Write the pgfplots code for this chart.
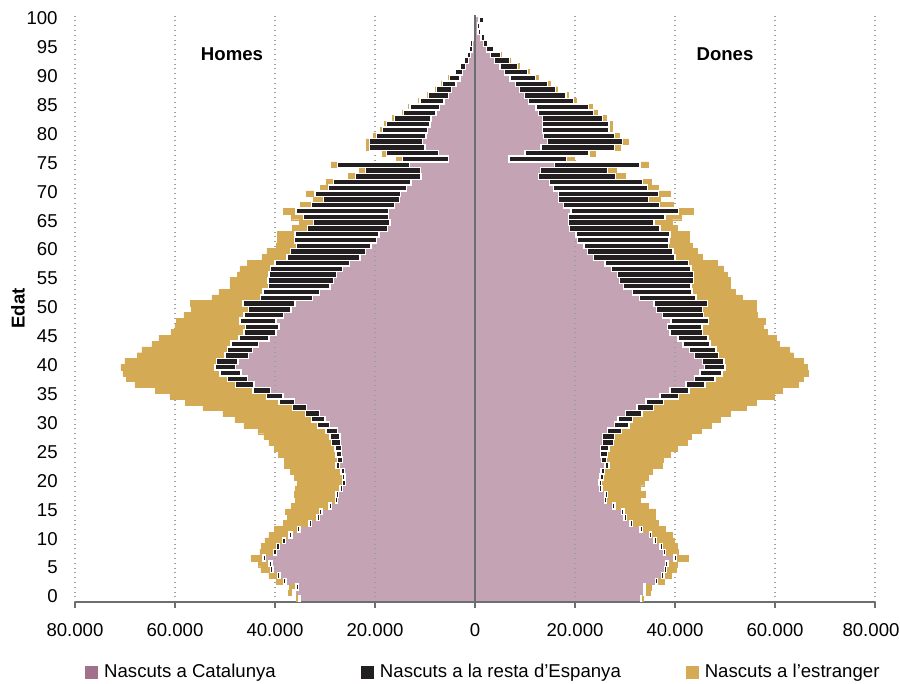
\documentclass[border=0pt]{standalone}
\usepackage{fontspec}
\setmainfont{Liberation Sans}
\usepackage{pgfplots}
\usepackage{pgfplotstable}
\pgfplotsset{compat=1.18}
\definecolor{catpink}{HTML}{C4A3B4}
\definecolor{catleg}{HTML}{A0708C}
\definecolor{espblk}{HTML}{231F20}
\definecolor{estgold}{HTML}{D4AA54}
\definecolor{axgray}{HTML}{6D6E71}
\definecolor{gridgray}{HTML}{9D9FA2}

% values in thousands of people; m = Homes, f = Dones
% c = Nascuts a Catalunya, e = resta d'Espanya, x = estranger
\pgfplotstableread{
age mc me mx fc fe fx
100 0.2 0.2 0.0 0.8 0.9 0.0
99 0.2 0.1 0.0 0.5 0.4 0.0
98 0.3 0.2 0.0 0.6 0.6 0.0
97 0.4 0.3 0.0 1.2 0.7 0.0
96 0.5 0.4 0.0 1.7 0.8 0.0
95 0.5 0.6 0.0 2.3 1.5 0.0
94 0.9 0.6 0.1 3.1 2.0 0.1
93 1.3 0.9 0.1 3.9 3.0 0.2
92 1.9 1.1 0.1 5.0 3.5 0.3
91 2.5 1.5 0.1 5.9 4.6 0.3
90 3.0 2.1 0.2 7.0 5.1 0.5
89 3.8 2.7 0.2 8.1 6.4 0.5
88 4.7 3.0 0.3 8.9 7.2 0.4
87 5.3 4.0 0.3 9.9 8.3 0.5
86 6.2 4.8 0.3 10.7 9.0 0.6
85 7.1 5.9 0.3 12.2 10.5 0.8
84 7.8 6.5 0.3 12.7 11.0 0.8
83 8.8 7.3 0.4 13.5 12.0 0.8
82 9.0 8.7 0.5 13.5 13.3 0.7
81 9.5 9.0 0.5 13.5 13.3 0.7
80 9.8 9.9 0.7 13.7 14.2 0.9
79 10.5 10.6 0.7 14.5 15.0 1.2
78 10.0 11.1 0.7 13.2 14.7 1.1
77 7.3 10.4 0.9 10.0 12.8 1.3
76 5.3 9.2 1.2 6.8 11.5 1.5
75 13.1 14.4 1.3 15.9 17.1 1.7
74 10.9 11.0 1.3 13.1 13.4 1.7
73 10.8 13.1 1.4 12.7 15.4 1.9
72 12.8 15.5 1.5 14.9 18.6 1.8
71 13.7 15.6 1.7 15.7 18.8 2.2
70 14.9 17.1 1.7 16.7 20.0 2.3
69 15.1 15.2 2.0 16.7 18.0 2.4
68 16.1 16.6 2.2 17.7 19.2 2.8
67 17.3 18.5 2.5 19.2 21.5 3.0
66 17.3 17.0 2.5 18.7 19.3 3.2
65 17.0 15.3 2.9 18.7 17.1 3.6
64 17.5 16.0 3.1 18.9 18.1 3.5
63 19.2 16.8 3.5 20.2 18.8 3.9
62 19.7 16.4 3.4 20.5 18.3 4.1
61 20.8 14.9 4.1 21.8 16.9 4.7
60 21.9 15.0 4.7 22.5 17.1 4.8
59 23.0 14.6 5.0 23.7 16.3 5.5
58 25.1 14.9 5.5 26.0 16.7 5.7
57 26.5 14.4 6.1 27.3 15.9 6.4
56 27.7 13.5 6.3 28.5 15.2 6.7
55 28.3 13.1 7.6 28.9 14.8 7.3
54 29.0 12.3 7.7 29.7 13.5 7.8
53 31.1 11.3 8.8 31.5 11.9 8.6
52 32.5 10.4 9.7 32.9 11.3 9.2
51 36.0 10.4 10.5 35.8 10.7 9.7
50 36.8 8.5 11.4 36.3 9.2 10.7
49 38.3 7.9 12.0 37.5 8.2 10.7
48 39.8 7.2 12.7 39.2 7.5 11.3
47 39.2 6.7 14.1 38.5 6.9 12.2
46 39.8 6.4 14.6 39.0 6.5 12.9
45 41.2 6.0 16.0 40.6 6.0 13.6
44 43.3 5.5 15.8 41.6 5.4 13.9
43 44.5 5.0 17.1 42.9 5.3 14.7
42 45.3 4.7 17.5 43.9 4.8 15.0
41 47.4 4.3 18.3 45.5 4.3 15.8
40 47.9 4.1 18.8 45.9 4.1 16.5
39 46.8 4.2 19.4 45.0 4.4 17.2
38 45.5 4.0 20.2 43.9 4.1 17.7
37 44.2 3.7 20.1 42.2 3.8 18.6
36 40.9 3.5 19.5 39.0 3.8 18.6
35 38.4 3.3 19.3 37.0 3.7 19.1
34 36.1 3.1 18.7 34.2 3.5 18.5
33 33.7 2.8 17.9 32.4 3.3 18.5
32 31.1 2.8 16.5 30.1 3.3 17.6
31 30.0 2.7 15.3 28.6 2.9 17.5
30 29.1 2.4 14.7 27.9 2.9 16.4
29 27.5 2.3 13.6 26.5 2.8 15.9
28 27.0 2.0 13.2 25.5 2.4 15.3
27 26.9 1.8 12.5 25.5 2.2 14.7
26 26.7 1.3 12.2 25.1 1.7 13.7
25 26.7 1.1 11.6 25.1 1.4 12.5
24 26.5 1.0 10.7 25.3 1.0 11.4
23 27.1 0.7 10.4 26.0 0.8 10.6
22 26.1 0.7 10.1 25.2 0.7 9.6
21 26.0 0.5 9.6 25.0 0.7 9.0
20 25.9 0.6 9.0 24.8 0.5 8.5
19 26.5 0.5 9.0 24.9 0.5 7.7
18 27.3 0.5 8.3 26.0 0.5 7.5
17 27.5 0.4 8.0 25.9 0.4 6.7
16 28.7 0.5 7.6 27.5 0.5 6.7
15 30.6 0.5 6.8 29.3 0.5 6.3
14 31.1 0.5 5.9 29.8 0.5 5.7
13 32.7 0.5 5.1 31.0 0.5 5.1
12 35.0 0.5 4.7 33.0 0.5 4.5
11 36.6 0.6 4.0 34.9 0.4 4.2
10 37.9 0.6 3.5 35.8 0.5 3.5
9 39.1 0.6 3.0 37.0 0.5 3.0
8 39.7 0.6 2.7 37.7 0.4 2.6
7 41.9 0.5 2.4 39.8 0.5 2.4
6 40.6 0.6 2.1 38.1 0.5 1.9
5 40.4 0.5 1.9 37.9 0.4 1.9
4 39.0 0.5 1.7 37.3 0.5 1.4
3 37.8 0.5 1.5 36.1 0.4 1.3
2 35.3 0.5 1.3 33.7 0.3 1.3
1 36.0 0.4 1.0 33.8 0.3 0.9
0 35.0 0.3 0.4 33.1 0.2 0.4
}\pyr

\pgfplotsset{pyrbase/.style={
  width=400pt, height=293.5pt, scale only axis,
  xmin=-80, xmax=80, ymin=-0.6, ymax=100.9,
  at={(0,0)}, anchor=south west,
}}

\begin{document}
\fontsize{9.3}{11}\selectfont
\begin{tikzpicture}[font=\fontsize{9.3}{11}\selectfont]
% layer 1: born in Catalonia (behind the grid)
\begin{axis}[pyrbase, hide axis, xbar, bar shift=0pt, bar width=1]
\addplot[fill=catpink, draw=catpink, line width=0.2pt] table[x expr=-\thisrow{mc}, y=age] {\pyr};
\addplot[fill=catpink, draw=catpink, line width=0.2pt] table[x=fc, y=age] {\pyr};
\end{axis}
% layer 2: men, axes, grid, legend
\begin{axis}[pyrbase, xbar stacked, bar shift=0pt, bar width=1,
  axis x line*=bottom, axis y line*=left,
  y axis line style={draw=none},
  x axis line style={axgray, line width=1pt},
  xtick={-80,-60,...,80},
  xticklabels={80.000,60.000,40.000,20.000,0,20.000,40.000,60.000,\hspace*{-4pt}80.000},
  xtick align=outside, major tick length=3pt,
  xtick style={axgray, line width=0.8pt},
  xticklabel style={anchor=center, yshift=-11pt},
  ytick={0,5,...,100}, ytick style={draw=none},
  yticklabel style={/pgf/number format/assume math mode=true, xshift=-5.4pt, yshift=1pt},
  xmajorgrids, grid style={gridgray, dotted, line width=0.6pt},
  ylabel={Edat},
  ylabel style={font=\fontsize{9.3}{11}\selectfont\bfseries, at={(axis description cs:-0.0713,0.5)}, anchor=center},
  legend columns=3,
  legend cell align=left,
  legend style={draw=none, fill=none, inner sep=0pt,
    at={(axis description cs:0.0125,-0.1193)}, anchor=west,
    nodes={inner sep=0pt},
    /tikz/every odd column/.append style={column sep=3pt},
    /tikz/every even column/.append style={column sep=0pt}},
]
\addplot[forget plot, fill=none, draw=none] table[x expr=-\thisrow{mc}, y=age] {\pyr};
\addplot[forget plot, fill=espblk, draw=white, line width=0.7pt] table[x expr=-\thisrow{me}, y=age] {\pyr};
\addplot[forget plot, fill=estgold, draw=estgold, line width=0.2pt] table[x expr=-\thisrow{mx}, y=age] {\pyr};
\addlegendimage{legend image code/.code={\fill[catleg] (0pt,-3pt) rectangle (6pt,3pt);}}
\addlegendentry{\makebox[128.5pt][l]{Nascuts a Catalunya}}
\addlegendimage{legend image code/.code={\fill[espblk] (0pt,-3pt) rectangle (6pt,3pt);}}
\addlegendentry{\makebox[153pt][l]{Nascuts a la resta d’Espanya}}
\addlegendimage{legend image code/.code={\fill[estgold] (0pt,-3pt) rectangle (6pt,3pt);}}
\addlegendentry{Nascuts a l’estranger}
\node[font=\fontsize{9.3}{11}\selectfont\bfseries] at (axis cs:-48.6,94.1) {Homes};
\node[font=\fontsize{9.3}{11}\selectfont\bfseries] at (axis cs:50,94.1) {Dones};
\end{axis}
% layer 3: women
\begin{axis}[pyrbase, hide axis, xbar stacked, bar shift=0pt, bar width=1]
\addplot[fill=none, draw=none] table[x=fc, y=age] {\pyr};
\addplot[fill=espblk, draw=white, line width=0.7pt] table[x=fe, y=age] {\pyr};
\addplot[fill=estgold, draw=estgold, line width=0.2pt] table[x=fx, y=age] {\pyr};
\draw[axgray, line width=1pt] (axis cs:0,-0.6) -- (axis cs:0,100.9);
\end{axis}
\pgfresetboundingbox
\path[use as bounding box] (-37.5pt,-41pt) rectangle (412.5pt,301pt);
\end{tikzpicture}
\end{document}
